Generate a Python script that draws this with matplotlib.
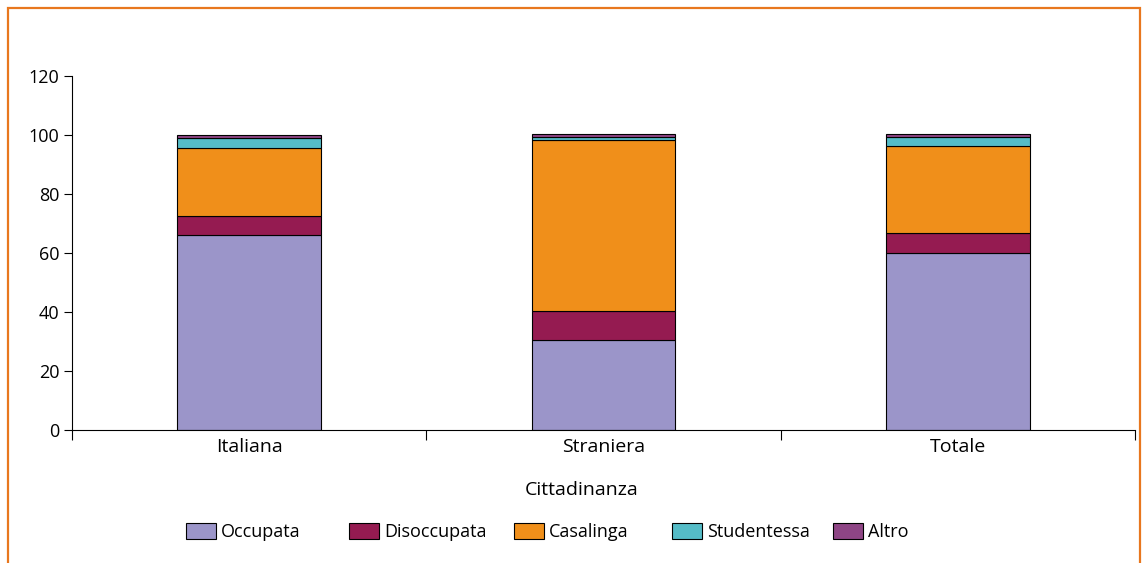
import matplotlib
matplotlib.use("Agg")
import matplotlib.pyplot as plt
from matplotlib.patches import Rectangle
import numpy as np

plt.rcParams['font.family'] = ['Open Sans', 'DejaVu Sans']

categories = ["Italiana", "Straniera", "Totale"]
series_names = ["Occupata", "Disoccupata", "Casalinga", "Studentessa", "Altro"]
occupata = [66.1, 30.5, 60.0]
disoccupata = [6.4, 9.8, 6.8]
casalinga = [23.1, 58.0, 29.5]
studentessa = [3.4, 1.0, 3.1]
altro = [1.0, 1.0, 0.9]
colors = ["#9b95c9", "#951b51", "#f08f1a", "#55bcc7", "#8e4585"]
yticks = [0, 20, 40, 60, 80, 100, 120]

fig = plt.figure(figsize=(11.42, 5.63), dpi=100)
ax = fig.add_axes([72/1142, 1-430/563, (1135-72)/1142, (430-76)/563])

x = np.arange(len(categories))
bottom = np.zeros(len(categories))
for name, vals, c in zip(series_names, [occupata, disoccupata, casalinga, studentessa, altro], colors):
    ax.bar(x, vals, bottom=bottom, width=0.405, color=c, edgecolor="black", linewidth=0.8, label=name)
    bottom += np.array(vals)

ax.set_xlim(-0.5, 2.5)
ax.set_ylim(0, 120)
ax.set_yticks(yticks)
ax.set_yticklabels([str(v) for v in yticks], fontsize=13)
ax.set_xticks(x)
ax.set_xticklabels(categories, fontsize=14)
ax.tick_params(axis='x', length=0, pad=6)
ax.set_xticks([-0.5, 0.5, 1.5, 2.5], minor=True)
ax.tick_params(axis='x', which='minor', length=7, direction='out', width=0.8)
ax.tick_params(axis='y', length=6, direction='out', width=0.8, pad=3)
for s in ['top', 'right']:
    ax.spines[s].set_visible(False)
ax.spines['left'].set_linewidth(0.8)
ax.spines['bottom'].set_linewidth(0.8)

fig.text(582/1142, 1-490/563, "Cittadinanza", fontsize=14, ha='center', va='center')

handles, labels = ax.get_legend_handles_labels()
legend_x = [186, 349, 514, 672, 833]
for h, l, lx in zip(handles, labels, legend_x):
    lg = fig.legend([h], [l], loc='center left', bbox_to_anchor=(lx/1142, 1-532/563),
                    frameon=False, fontsize=13, handlelength=1.65, handleheight=1.0,
                    handletextpad=0.3, borderpad=0, borderaxespad=0)

fig.patches.append(Rectangle((8/1142, -0.05), (1140-8)/1142, 1-8/563+0.05, transform=fig.transFigure,
                             fill=False, edgecolor="#e8771e", linewidth=1.6))

fig.savefig("out.png", dpi=100)
